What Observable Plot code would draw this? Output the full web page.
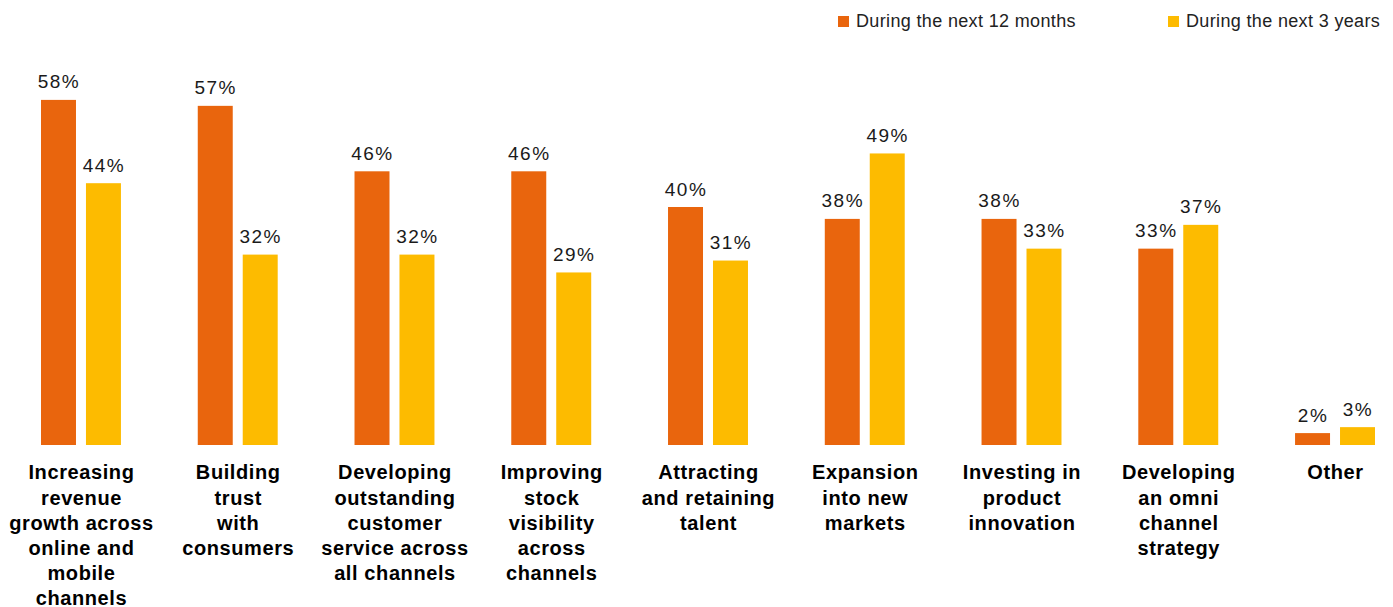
<!DOCTYPE html>
<html><head><meta charset="utf-8">
<script src="https://cdn.jsdelivr.net/npm/d3@7"></script>
<script src="https://cdn.jsdelivr.net/npm/@observablehq/plot@0.6"></script>
<style>
body{margin:0;background:#fff;font-family:"Liberation Sans",Arial,Helvetica,sans-serif;}
#legend{position:relative;height:40px;width:1393px;}
.item{position:absolute;top:10px;display:flex;align-items:center;font-size:18px;letter-spacing:0.35px;color:#222;line-height:22px;}
.sw{width:11px;height:11px;margin-right:7px;}
</style></head><body>
<div id="legend"></div><div id="chart"></div>
<script>
const categories = ["Increasing revenue growth across online and mobile channels","Building trust with consumers","Developing outstanding customer service across all channels","Improving stock visibility across channels","Attracting and retaining talent","Expansion into new markets","Investing in product innovation","Developing an omni channel strategy","Other"];
const categoryLabels = ["Increasing\nrevenue\ngrowth across\nonline and\nmobile\nchannels","Building\ntrust\nwith\nconsumers","Developing\noutstanding\ncustomer\nservice across\nall channels","Improving\nstock\nvisibility\nacross\nchannels","Attracting\nand retaining\ntalent","Expansion\ninto new\nmarkets","Investing in\nproduct\ninnovation","Developing\nan omni\nchannel\nstrategy","Other"];
const series = ["During the next 12 months","During the next 3 years"];
const next12Months = [58,57,46,46,40,38,38,33,2];
const next3Years = [44,32,32,29,31,49,33,37,3];
const colors = ["#E9650D","#FDBB00"];
const legendX = [838,1168];

const data = categories.flatMap((c,i)=>[
  {category:c, series:series[0], value:next12Months[i]},
  {category:c, series:series[1], value:next3Years[i]}
]);

const legend = document.getElementById("legend");
series.forEach((s,i)=>{
  const it = document.createElement("div");
  it.className="item"; it.style.left = legendX[i]+"px";
  it.innerHTML = `<span class="sw" style="background:${colors[i]}"></span><span>${s}</span>`;
  legend.appendChild(it);
});

const chart = Plot.plot({
  width:1393, height:567,
  marginLeft:41, marginRight:18, marginTop:48, marginBottom:162,
  style:{fontFamily:'"Liberation Sans",Arial,Helvetica,sans-serif', background:"#fff"},
  fx:{domain:categories, paddingInner:0.49, paddingOuter:0, round:false, axis:null, label:null},
  x:{domain:series, paddingInner:0.222, paddingOuter:0, round:false, axis:null},
  y:{domain:[0,60], axis:null},
  color:{domain:series, range:colors},
  marks:[
    Plot.barY(data,{fx:"category", x:"series", y:"value", fill:"series"}),
    Plot.text(data,{fx:"category", x:"series", y:"value", text:d=>d.value+"%", lineAnchor:"bottom", dy:-12, fontSize:19, fill:"#1a1a1a", className:"pct"}),
    Plot.text(categories,{fx:d=>d, frameAnchor:"bottom", text:d=>categoryLabels[categories.indexOf(d)], lineAnchor:"top", dy:16, lineHeight:1.26, fontSize:20, fontWeight:"bold", fill:"#000", className:"cat"})
  ]
});
document.getElementById("chart").appendChild(chart);
d3.select(chart).selectAll(".pct text").attr("letter-spacing","1.5px");
d3.select(chart).selectAll(".cat text").attr("letter-spacing","0.6px");
</script>
</body></html>
